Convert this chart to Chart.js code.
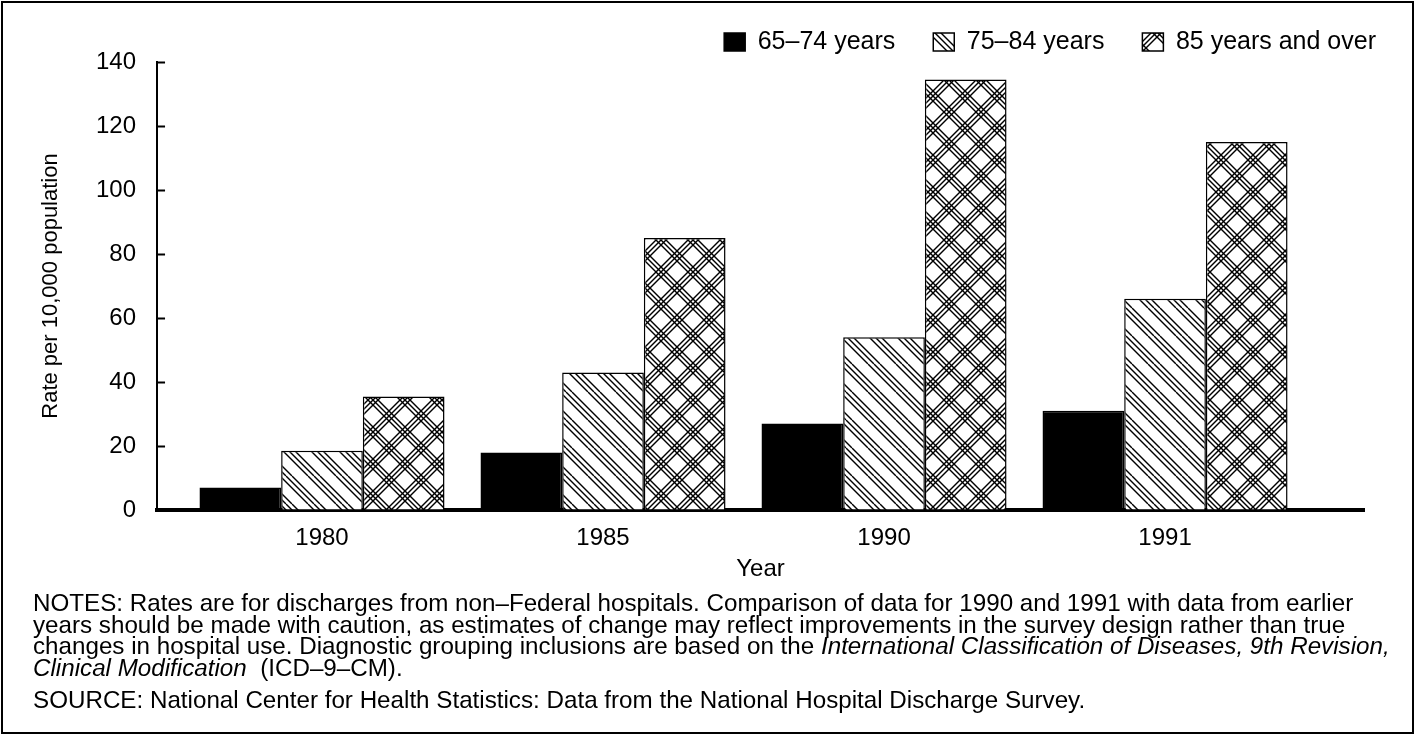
<!DOCTYPE html>
<html>
<head>
<meta charset="utf-8">
<script src="https://cdn.jsdelivr.net/npm/chart.js@4"></script>
<style>
    html, body { margin: 0; padding: 0; background: #fff; }
    #wrap { position: relative; width: 1415px; height: 734px; overflow: hidden; }
    #frame { position: absolute; left: 1px; top: 1px; width: 1409px; height: 729px; border: 2px solid #000; }
    #notes {
        position: absolute; left: 33px; top: 592px;
        font-family: "Liberation Sans", Arial, sans-serif; font-size: 24.2px; line-height: 21.7px;
        color: #000; white-space: nowrap;
    }
    #notes p { margin: 0; }
    #notes .src { margin-top: 10px; }
</style>
</head>
<body>
<div id="wrap">
    <canvas id="chart" width="1415" height="734"></canvas>
    <div id="frame"></div>
    <div id="notes">
        <p>NOTES: Rates are for discharges from non–Federal hospitals. Comparison of data for 1990 and 1991 with data from earlier<br>
        years should be made with caution, as estimates of change may reflect improvements in the survey design rather than true<br>
        changes in hospital use. Diagnostic grouping inclusions are based on the <i>International Classification of Diseases, 9th Revision,</i><br>
        <i>Clinical Modification</i>&nbsp; (ICD–9–CM).</p>
        <p class="src">SOURCE: National Center for Health Statistics: Data from the National Hospital Discharge Survey.</p>
    </div>
</div>
<script>
// dados do grafico
const years = ['1980', '1985', '1990', '1991'];
const seriesNames = ['65–74 years', '75–84 years', '85 years and over'];
const age65to74 = [7, 18, 27, 31];
const age75to84 = [18.5, 43, 54, 66];
const age85plus = [35.5, 85, 134.5, 115];
const yTicks = [0, 20, 40, 60, 80, 100, 120, 140];

const FONT = '"Liberation Sans", Arial, sans-serif';

// criar padrao de hachura (dir: 1 = "\", -1 = "/")
function makeHatch(dirs, offsets, size) {
    const c = document.createElement('canvas');
    c.width = size;
    c.height = size;
    const g = c.getContext('2d');
    g.fillStyle = '#fff';
    g.fillRect(0, 0, size, size);
    g.strokeStyle = '#000';
    g.lineWidth = 1.4;
    dirs.forEach(dir => {
        offsets.forEach(off => {
            for (let k = -2; k <= 2; k++) {
                const x0 = off + k * size;
                g.beginPath();
                if (dir === 1) {
                    g.moveTo(x0, 0);
                    g.lineTo(x0 + size, size);
                } else {
                    g.moveTo(x0 + size, 0);
                    g.lineTo(x0, size);
                }
                g.stroke();
            }
        });
    });
    const ctx = document.getElementById('chart').getContext('2d');
    return ctx.createPattern(c, 'repeat');
}

const hatch75 = makeHatch([1], [0, 6, 12], 28);
const hatch85 = makeHatch([1, -1], [0, 5, 10], 32);

function toPoints(values) {
    return values.map((v, i) => ({ x: i, y: v }));
}

// ticks internos do eixo y + ajuste da legenda
const axisExtras = {
    id: 'axisExtras',
    afterLayout(chart) {
        // empurrar legenda para a direita (alem da area do grafico)
        chart.legend.left += 50;
        chart.legend.right += 50;
        chart.legend.top += 2.5;
        chart.legend.bottom += 2.5;
    },
    afterDraw(chart) {
        const { ctx, chartArea, scales } = chart;
        ctx.save();
        ctx.strokeStyle = '#000';
        ctx.lineWidth = 2;
        yTicks.forEach(t => {
            if (t === 0) return;
            const y = Math.round(scales.y.getPixelForValue(t)) + 0.5;
            ctx.beginPath();
            ctx.moveTo(chartArea.left, y);
            ctx.lineTo(chartArea.left + 8, y);
            ctx.stroke();
        });
        ctx.restore();
    }
};

const barStyle = {
    borderColor: '#000',
    borderWidth: 1.5,
    borderSkipped: 'bottom',
    categoryPercentage: 0.872,
    barPercentage: 1.0
};

new Chart(document.getElementById('chart'), {
    type: 'bar',
    data: {
        datasets: [
            Object.assign({ label: seriesNames[0], data: toPoints(age65to74), backgroundColor: '#000' }, barStyle),
            Object.assign({ label: seriesNames[1], data: toPoints(age75to84), backgroundColor: hatch75 }, barStyle),
            Object.assign({ label: seriesNames[2], data: toPoints(age85plus), backgroundColor: hatch85 }, barStyle)
        ]
    },
    options: {
        responsive: false,
        animation: false,
        events: [],
        layout: { padding: { left: 37.8, right: 51, top: -11, bottom: 150.6 } },
        plugins: {
            tooltip: { enabled: false },
            legend: {
                position: 'top',
                align: 'end',
                labels: {
                    color: '#000',
                    font: { family: FONT, size: 25 },
                    boxWidth: 21,
                    boxHeight: 18,
                    padding: 38
                }
            }
        },
        scales: {
            x: {
                type: 'linear',
                offset: false,
                min: -0.587,
                max: 3.708,
                afterBuildTicks: scale => {
                    scale.ticks = years.map((_, i) => ({ value: i }));
                },
                grid: { display: false, drawTicks: false },
                border: { display: true, color: '#000', width: 4 },
                ticks: {
                    color: '#000',
                    font: { family: FONT, size: 24 },
                    padding: 14,
                    maxRotation: 0,
                    callback: v => years[v]
                },
                title: {
                    display: true,
                    text: 'Year',
                    color: '#000',
                    font: { family: FONT, size: 24 },
                    padding: { top: -12.2, bottom: 0 }
                }
            },
            y: {
                min: 0,
                max: 140,
                afterBuildTicks: scale => {
                    scale.ticks = yTicks.map(v => ({ value: v }));
                },
                grid: { display: true, drawOnChartArea: false, drawTicks: false },
                border: { display: true, color: '#000', width: 2 },
                ticks: {
                    color: '#000',
                    font: { family: FONT, size: 24 },
                    padding: 21
                },
                title: {
                    display: true,
                    text: 'Rate per 10,000 population',
                    color: '#000',
                    font: { family: FONT, size: 22 },
                    padding: { top: 0, bottom: 10.8 }
                }
            }
        }
    },
    plugins: [axisExtras]
});
</script>
</body>
</html>
